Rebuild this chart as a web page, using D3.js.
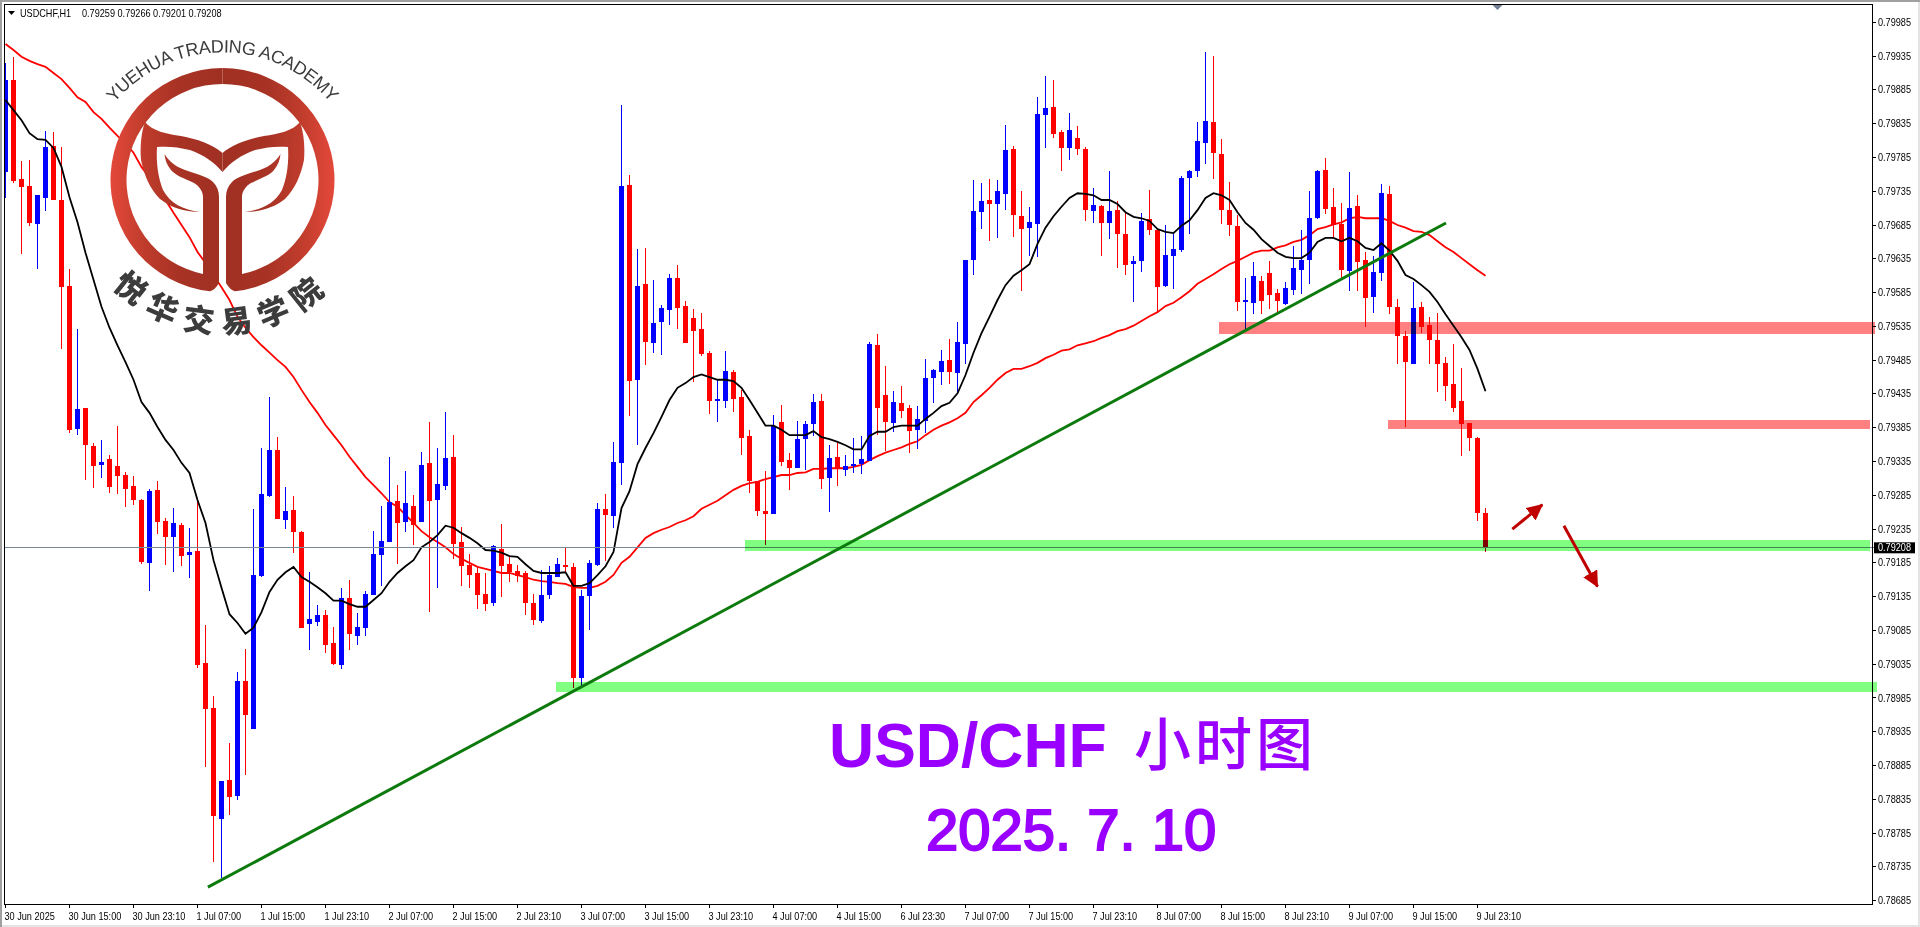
<!DOCTYPE html>
<html>
<head>
<meta charset="utf-8">
<script src="https://cdn.jsdelivr.net/npm/d3@7/dist/d3.min.js"></script>
<style>
html,body{margin:0;padding:0;background:#fff;overflow:hidden}
svg{display:block}
text{font-family:"Liberation Sans",Arial,sans-serif}
</style>
</head>
<body>
<svg id="chart" width="1920" height="927"></svg>
<script>
// Prices are in 1/100000 (0.79208 = 79208)
const open=[79763,79900,79753,79743,79686,79725,79802,79722,79595,79383,
79414,79358,79330,79339,79328,79315,79299,79278,79185,79293,
79247,79223,79241,79197,79202,79037,78970,78806,78864,78840,
79010,78939,79165,79284,79352,79248,79263,79231,79094,79097,
79108,79066,79034,79133,79077,79089,79137,79197,79216,79276,
79245,79269,79245,79333,79278,79299,79342,79216,79182,79170,
79139,79126,79205,79183,79173,79170,79126,79099,79137,79164,
79182,79179,79015,79136,79182,79265,79254,79333,79744,79456,
79598,79510,79541,79559,79607,79565,79547,79531,79496,79425,
79425,79467,79430,79373,79306,79262,79257,79393,79337,79325,
79368,79391,79425,79311,79342,79322,79328,79331,79336,79507,
79433,79392,79422,79414,79382,79395,79459,79467,79485,79466,
79509,79633,79704,79722,79716,79731,79797,79698,79681,79686,
79848,79860,79823,79799,79814,79797,79706,79713,79688,79707,
79672,79627,79632,79694,79678,79595,79639,79648,79755,79765,
79806,79837,79790,79707,79683,79571,79570,79602,79614,79584,
79568,79589,79618,79633,79695,79766,79712,79686,79617,79713,
79633,79578,79614,79731,79564,79521,79479,79564,79537,79515,
79481,79450,79425,79392,79370,79259];
const close=[79900,79750,79741,79688,79729,79800,79722,79593,79382,79413,
79359,79328,79334,79297,79314,79294,79278,79186,79291,79245,
79223,79244,79195,79201,79034,78969,78810,78862,78838,79010,
78960,79167,79287,79352,79250,79262,79231,79089,79102,79108,
79063,79035,79133,79080,79090,79139,79198,79217,79275,79244,
79274,79241,79330,79276,79302,79340,79213,79180,79167,79137,
79124,79210,79180,79171,79165,79126,79100,79137,79167,79183,
79179,79015,79136,79185,79265,79256,79334,79743,79454,79595,
79512,79540,79562,79607,79562,79510,79528,79494,79425,79427,
79469,79427,79370,79306,79262,79257,79388,79334,79325,79368,
79391,79423,79309,79340,79325,79328,79331,79339,79509,79414,
79393,79423,79410,79380,79398,79459,79470,79484,79467,79512,
79633,79706,79720,79716,79735,79796,79700,79679,79689,79849,
79858,79820,79799,79826,79797,79707,79715,79688,79706,79672,
79626,79632,79691,79678,79593,79641,79650,79755,79765,79809,
79839,79792,79707,79685,79571,79574,79610,79573,79581,79573,
79592,79621,79633,79695,79765,79709,79685,79618,79710,79630,
79577,79615,79732,79564,79521,79482,79562,79534,79515,79479,
79447,79414,79391,79370,79259,79208];
const high=[79925,79934,79780,79781,79729,79824,79823,79800,79620,79531,
79414,79362,79367,79345,79388,79319,79314,79279,79294,79306,
79251,79266,79244,79237,79278,79093,78988,78862,78918,79023,
79057,79265,79355,79430,79371,79297,79284,79232,79171,79123,
79115,79090,79148,79160,79111,79143,79232,79269,79342,79300,
79321,79285,79349,79393,79355,79408,79374,79238,79198,79180,
79170,79211,79242,79194,79182,79173,79139,79174,79180,79192,
79207,79185,79145,79189,79274,79287,79364,79863,79759,79650,
79651,79604,79567,79613,79626,79573,79561,79555,79498,79456,
79498,79470,79441,79382,79306,79321,79404,79419,79348,79395,
79395,79435,79435,79359,79364,79345,79370,79373,79512,79524,
79476,79439,79447,79419,79417,79487,79472,79500,79516,79541,
79633,79752,79747,79753,79752,79833,79802,79735,79712,79874,
79905,79900,79826,79851,79831,79800,79740,79715,79765,79720,
79704,79639,79703,79737,79681,79685,79672,79758,79766,79837,
79941,79935,79812,79749,79700,79607,79630,79610,79632,79590,
79601,79654,79678,79735,79766,79784,79740,79718,79763,79729,
79645,79639,79746,79743,79575,79528,79601,79571,79549,79555,
79490,79509,79473,79392,79371,79266];
const low=[79725,79747,79642,79683,79620,79706,79722,79501,79377,79374,
79308,79296,79311,79288,79287,79268,79271,79183,79143,79228,
79182,79171,79180,79163,79029,78883,78742,78719,78812,78834,
78871,78939,79164,79282,79250,79235,79200,79089,79056,79091,
79052,79034,79028,79056,79063,79077,79137,79151,79216,79183,
79231,79211,79245,79112,79148,79293,79191,79151,79148,79117,
79114,79121,79134,79157,79157,79108,79093,79096,79132,79164,
79170,79000,79001,79086,79180,79188,79237,79300,79402,79359,
79478,79496,79493,79537,79531,79510,79453,79491,79405,79393,
79414,79408,79345,79288,79254,79211,79257,79328,79293,79325,
79322,79373,79294,79260,79299,79314,79318,79316,79336,79374,
79350,79379,79399,79348,79353,79377,79422,79448,79450,79435,
79479,79611,79679,79661,79666,79707,79667,79587,79639,79638,
79799,79814,79765,79781,79789,79691,79688,79639,79664,79621,
79611,79571,79615,79670,79556,79593,79590,79645,79672,79756,
79775,79753,79686,79669,79558,79527,79553,79553,79561,79556,
79567,79581,79583,79598,79694,79701,79666,79607,79587,79587,
79534,79555,79602,79553,79479,79386,79479,79525,79479,79438,
79425,79408,79343,79350,79247,79201];
const slowMA=[79953,79944,79934,79928,79923,79919,79910,79901,79888,79874,
79867,79852,79842,79829,79817,79806,79792,79771,79755,79737,
79722,79703,79685,79667,79645,79629,79611,79593,79574,79549,
79533,79519,79507,79496,79485,79475,79460,79441,79423,79407,
79389,79374,79359,79342,79327,79312,79300,79288,79275,79268,
79256,79244,79232,79223,79216,79208,79198,79191,79185,79179,
79176,79173,79170,79170,79167,79164,79160,79158,79157,79155,
79154,79149,79148,79148,79151,79157,79167,79185,79194,79208,
79222,79229,79234,79238,79244,79248,79254,79265,79271,79277,
79285,79293,79299,79303,79305,79309,79312,79315,79315,79318,
79319,79324,79324,79325,79325,79325,79327,79330,79337,79343,
79348,79352,79356,79361,79365,79374,79382,79388,79393,79399,
79407,79423,79433,79444,79456,79466,79472,79472,79476,79481,
79488,79493,79499,79501,79507,79510,79513,79518,79522,79528,
79531,79536,79543,79550,79556,79565,79570,79578,79587,79598,
79605,79612,79620,79627,79632,79638,79644,79647,79647,79652,
79655,79660,79663,79670,79679,79682,79686,79689,79695,79697,
79695,79695,79695,79691,79685,79681,79676,79675,79670,79661,
79652,79645,79636,79627,79618,79610];
const fastMA=[79870,79855,79840,79821,79812,79811,79799,79771,79726,79689,
79644,79604,79564,79533,79507,79482,79456,79423,79407,79386,
79367,79352,79333,79318,79278,79244,79189,79148,79109,79096,
79080,79089,79112,79142,79160,79171,79179,79164,79157,79149,
79140,79129,79129,79124,79120,79120,79130,79140,79157,79170,
79180,79189,79208,79216,79226,79240,79237,79229,79222,79214,
79204,79203,79200,79195,79194,79183,79173,79170,79170,79170,
79171,79151,79151,79155,79167,79180,79201,79266,79291,79331,
79355,79377,79401,79426,79444,79451,79460,79464,79460,79456,
79456,79454,79444,79426,79407,79388,79388,79382,79374,79374,
79374,79380,79371,79368,79364,79359,79353,79353,79373,79379,
79379,79386,79388,79388,79388,79398,79407,79417,79422,79436,
79463,79496,79525,79549,79574,79596,79610,79618,79627,79657,
79681,79698,79712,79725,79732,79731,79729,79722,79722,79716,
79704,79697,79695,79691,79679,79675,79673,79684,79692,79707,
79725,79732,79729,79722,79704,79688,79678,79664,79654,79644,
79638,79636,79636,79644,79660,79666,79666,79661,79666,79661,
79651,79648,79658,79647,79632,79611,79605,79596,79586,79571,
79553,79536,79519,79500,79472,79439];
const timeLabels=["30 Jun 2025","30 Jun 15:00","30 Jun 23:10","1 Jul 07:00","1 Jul 15:00","1 Jul 23:10",
"2 Jul 07:00","2 Jul 15:00","2 Jul 23:10","3 Jul 07:00","3 Jul 15:00","3 Jul 23:10",
"4 Jul 07:00","4 Jul 15:00","6 Jul 23:30","7 Jul 07:00","7 Jul 15:00","7 Jul 23:10",
"8 Jul 07:00","8 Jul 15:00","8 Jul 23:10","9 Jul 07:00","9 Jul 15:00","9 Jul 23:10"];
const priceTicks=d3.range(78685,79986,50);
const lastPrice=79208;
const headerText="USDCHF,H1";
const headerValues="0.79259 0.79266 0.79201 0.79208";
// Drawn objects, in bar index and price
const supportBands=[[92.4,233.1,79219,79203],[68.8,233.9,79009,78994]];
const resistBands=[[151.7,233.7,79541,79524],[172.8,233.1,79396,79383]];
const trendLine=[[25.3,78705],[180.06,79688]];
const arrows=[[[188.35,79235],[192.1,79271]],[[194.8,79240],[199,79150]]];

const svg=d3.select("#chart");
const x=d3.scaleLinear().domain([0,185]).range([5.5,1485.5]);
const y=d3.scaleLinear().domain([78685,79985]).range([900.7,22.3]);
// The chart's UI font is narrower than anything installed: condense real text to the same width
const narrow=(sel,f)=>sel.each(function(){const w=this.getComputedTextLength();
  d3.select(this).attr("textLength",(w*(f||0.83)).toFixed(1)).attr("lengthAdjust","spacingAndGlyphs");});

// window chrome
svg.append("rect").attr("width",1920).attr("height",927).attr("fill","#fff");
svg.append("rect").attr("x",0).attr("y",0).attr("width",1920).attr("height",2).attr("fill","#a0a0a0");
svg.append("rect").attr("x",0).attr("y",0).attr("width",2).attr("height",927).attr("fill","#a0a0a0");
svg.append("rect").attr("x",1918).attr("y",2).attr("width",2).attr("height",925).attr("fill","#e4e4e4");
svg.append("rect").attr("x",2).attr("y",925).attr("width",1918).attr("height",2).attr("fill","#e4e4e4");

const defs=svg.append("defs");
defs.append("clipPath").attr("id","plot").append("rect").attr("x",4.5).attr("y",4.5).attr("width",1867.5).attr("height",899.5);
const grad=defs.append("linearGradient").attr("id","logoGrad").attr("gradientUnits","userSpaceOnUse")
 .attr("x1",110).attr("x2",222).attr("y1",0).attr("y2",0);
[[0,"#e4493a"],[0.3,"#c03c2c"],[0.6,"#a83325"],[1,"#a03022"]].forEach(s=>grad.append("stop").attr("offset",s[0]).attr("stop-color",s[1]));
defs.append("marker").attr("id","head").attr("markerUnits","userSpaceOnUse").attr("viewBox","0 -8 16 16")
 .attr("refX",15).attr("refY",0).attr("markerWidth",16).attr("markerHeight",16).attr("orient","auto")
 .append("path").attr("d","M0,-8L16,0L0,8Z").attr("fill","#c00000");

const plot=svg.append("g").attr("clip-path","url(#plot)");

// moving average (slow) under the logo
const line=d3.line().x((d,i)=>x(i)).y(d=>y(d));
plot.append("path").attr("d",line(slowMA)).attr("fill","none").attr("stroke","#ff0000").attr("stroke-width",1.8);

// candles
const idx=d3.range(open.length);
const col=i=>close[i]>=open[i]?"#0000ff":"#ff0000";
const candles=plot.append("g").attr("shape-rendering","crispEdges");
candles.selectAll("rect.w").data(idx).join("rect").attr("class","w")
 .attr("x",i=>x(i)-0.5).attr("width",1)
 .attr("y",i=>y(high[i])).attr("height",i=>y(low[i])-y(high[i]))
 .attr("fill",col);
candles.selectAll("rect.b").data(idx).join("rect").attr("class","b")
 .attr("x",i=>x(i)-2.5).attr("width",5)
 .attr("y",i=>y(Math.max(open[i],close[i])))
 .attr("height",i=>Math.max(1,Math.abs(y(open[i])-y(close[i]))))
 .attr("fill",col);

plot.append("path").attr("d",line(fastMA)).attr("fill","none").attr("stroke","#000").attr("stroke-width",1.8);

// price line
svg.append("line").attr("x1",4.5).attr("x2",1874).attr("y1",Math.round(y(lastPrice))+0.5).attr("y2",Math.round(y(lastPrice))+0.5)
 .attr("stroke","#778899").attr("stroke-width",1);

// bands (multiplied over candles)
const band=(data,color)=>svg.selectAll(null).data(data).join("rect")
 .attr("x",d=>x(d[0])).attr("width",d=>x(d[1])-x(d[0]))
 .attr("y",d=>y(d[2])).attr("height",d=>y(d[3])-y(d[2]))
 .attr("fill",color).style("mix-blend-mode","multiply").attr("shape-rendering","crispEdges");
band(supportBands,"#80ff80");
band(resistBands,"#ff8080");

// trend line
svg.append("line").attr("x1",x(trendLine[0][0])).attr("y1",y(trendLine[0][1]))
 .attr("x2",x(trendLine[1][0])).attr("y2",y(trendLine[1][1]))
 .attr("stroke","#0c7a0c").attr("stroke-width",3);

// arrows
arrows.forEach(a=>svg.append("line").attr("x1",x(a[0][0])).attr("y1",y(a[0][1]))
 .attr("x2",x(a[1][0])).attr("y2",y(a[1][1])).attr("stroke","#c00000").attr("stroke-width",3).attr("marker-end","url(#head)"));

// frame
svg.append("rect").attr("x",4.5).attr("y",4.5).attr("width",1868).attr("height",900).attr("fill","none").attr("stroke","#000").attr("shape-rendering","crispEdges");
// chart shift marker
svg.append("path").attr("d","M1492.5,5L1502.5,5L1497.5,10Z").attr("fill","#708090");

// axes
const yAxis=d3.axisRight(y).tickValues(priceTicks).tickSize(3).tickPadding(2).offset(0)
 .tickFormat(d=>(d/1e5).toFixed(5));
const yg=svg.append("g").attr("transform","translate(1873,0)").call(yAxis);
const xAxis=d3.axisBottom(x).tickValues(d3.range(0,185,8)).tickSize(3).tickPadding(4).offset(0)
 .tickFormat((d,i)=>timeLabels[i]);
const xg=svg.append("g").attr("transform","translate(0,905)").call(xAxis);
[yg,xg].forEach(g=>{g.select(".domain").remove();g.attr("font-family",null).attr("font-size",null);
 g.selectAll("line").attr("stroke","#000").attr("shape-rendering","crispEdges");
 g.selectAll("text").attr("fill","#000").style("font-size","11px").call(narrow);});
xg.selectAll("text").attr("text-anchor","start").attr("dx",-1);

// last price label
svg.append("rect").attr("x",1874).attr("y",y(lastPrice)-5).attr("width",41).attr("height",11).attr("fill","#000");
svg.append("text").attr("x",1878).attr("y",y(lastPrice)+4).attr("fill","#fff").style("font-size","11px").text((lastPrice/1e5).toFixed(5)).call(narrow);

// header
svg.append("path").attr("d","M8,11L15,11L11.5,15Z").attr("fill","#000");
svg.append("text").attr("x",20).attr("y",17).attr("fill","#000").style("font-size","11px").text(headerText).call(narrow);
svg.append("text").attr("x",82).attr("y",17).attr("fill","#000").style("font-size","11px").text(headerValues).call(narrow);

// logo
const logo=svg.append("g");
const half=logo.append("g").attr("fill","url(#logoGrad)");
const half2=logo.append("g").attr("fill","url(#logoGrad)").attr("transform","translate(445,0) scale(-1,1)");
const ringPath="M222.5,68A112,112 0 0 0 210,291.3Q215,290 219,283L219,270L203,274A96,96 0 0 1 222.5,84Z";
const leafPath="M145,122C152,131 167,134 181,136C197,139 212,144 222.5,153L222.5,172C214,162 204,155 190,150C178,147 168,146 157,147C156,162 158,178 163,190C170,203 183,210 200,212C184,212 170,207 160,199C150,189 144,175 141,160C140,147 141,133 145,122Z";
const stemPath="M164.5,154C170,163 178,168 188,171C200,175 208,177 213,182C217,186 219,191 219,197L219,283L203,274L203,197C203,191 199,186 194,183C184,178 176,176 171,170C167,165 165,160 164.5,154Z";
[half,half2].forEach(g=>[ringPath,leafPath,stemPath].forEach(d=>g.append("path").attr("d",d)));
defs.append("path").attr("id","arcTop").attr("d","M116,101A141,141 0 0 1 329,101");
defs.append("path").attr("id","arcBot").attr("d","M103,275A152,152 0 0 0 342,275");
logo.append("text").attr("fill","#3c3c3c").style("font-size","18px")
 .append("textPath").attr("href","#arcTop").attr("startOffset","50%").attr("text-anchor","middle").attr("textLength",246).attr("lengthAdjust","spacing").text("YUEHUA TRADING ACADEMY");
logo.append("text").attr("fill","#3c3c3c").style("font-family","'Noto Sans CJK SC',sans-serif").style("font-weight","900").style("font-size","31px").style("letter-spacing","10px")
 .append("textPath").attr("href","#arcBot").attr("startOffset","50%").attr("text-anchor","middle").text("悦华交易学院");

// titles
const t1=svg.append("text").attr("x",829).attr("y",767).attr("fill","#9900ff");
t1.append("tspan").style("font-weight","700").style("font-size","62.5px").text("USD/CHF");
t1.append("tspan").attr("x",1134).attr("y",765).style("font-family","'Noto Sans CJK SC',sans-serif").style("font-weight","500").style("font-size","57px").style("letter-spacing","4px").text("小时图");
svg.append("text").attr("x",926).attr("y",850).attr("fill","#9900ff").attr("stroke","#9900ff").attr("stroke-width",2).style("font-size","58px").text("2025. 7. 10");
</script>
</body>
</html>
